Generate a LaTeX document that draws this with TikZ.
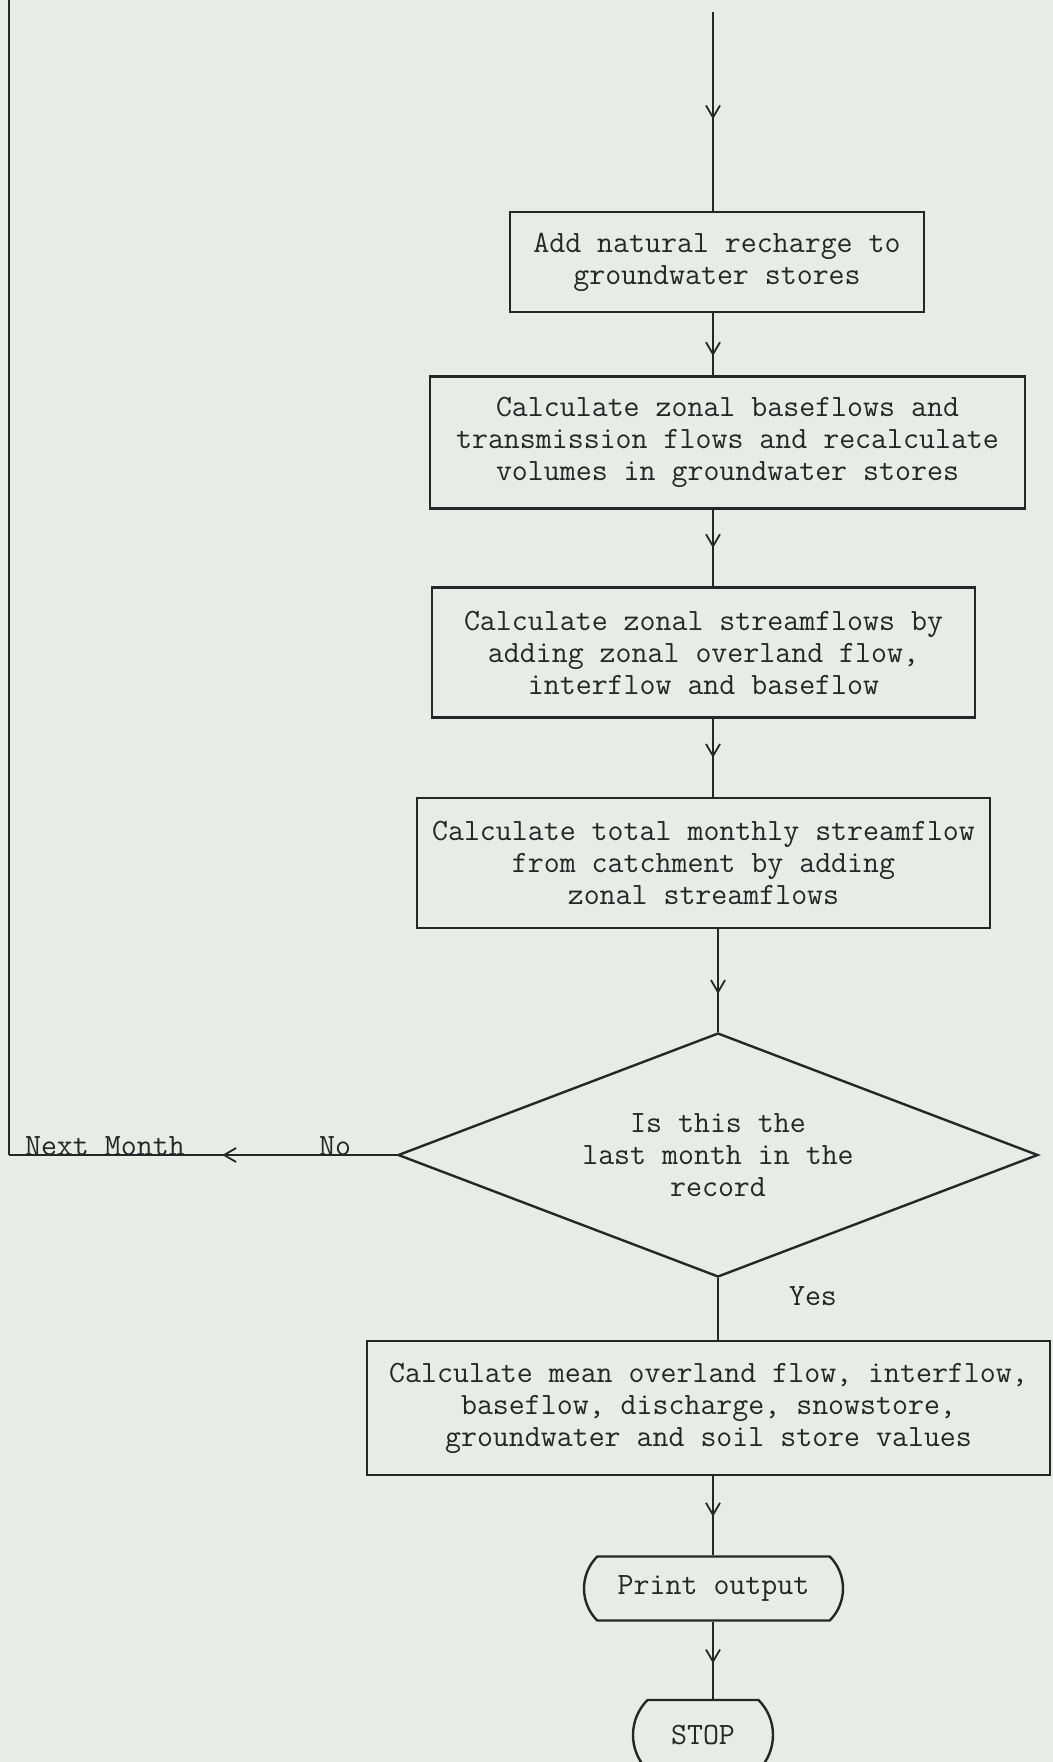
\documentclass[tikz,border=0pt]{standalone}
\usepackage{fontspec}
\usetikzlibrary{shapes.geometric,shapes.misc,arrows.meta,decorations.markings}

\begin{document}
\begin{tikzpicture}[x=0.5pt,y=-0.5pt]
  % some colors
  \colorlet{ink}{black!85}
  \definecolor{paper}{RGB}{233,236,230}
  % some styles
  \tikzset{
    txt/.style={font=\ttfamily\fontsize{15.5}{16}\selectfont,text=ink},
    box/.style={txt,draw=ink,line width=1.4pt,rectangle,inner sep=0pt,align=center},
    test/.style={txt,draw=ink,line width=1.2pt,diamond,inner sep=0pt,align=center,shape aspect=2.6},
    term/.style={txt,draw=ink,line width=1.2pt,rounded rectangle,rounded rectangle arc length=90,inner sep=0pt},
    link/.style={draw=ink,line width=0.9pt},
    flow/.style={link,postaction={decorate},
      decoration={markings,mark=at position #1 with {\arrow{Straight Barb[length=6pt,width=7pt,line width=0.9pt]}}}},
  }
  % paper
  \fill[paper] (0,0) rectangle (1053,1762);
  \useasboundingbox (0,0) rectangle (1053,1762);
  % the steps of one month
  \node[box,minimum width=207pt,minimum height=50pt] (recharge) at (717,262)
    {Add natural recharge to\\groundwater stores};
  \node[box,minimum width=297.5pt,minimum height=66pt] (baseflow) at (727.5,442.5)
    {Calculate zonal baseflows and\\transmission flows and recalculate\\volumes in groundwater stores};
  \node[box,minimum width=271.5pt,minimum height=65pt] (streamflow) at (703.5,652.5)
    {Calculate zonal streamflows by\\adding zonal overland flow,\\interflow and baseflow};
  \node[box,minimum width=286.5pt,minimum height=65pt] (total) at (703.5,863)
    {Calculate total monthly streamflow\\from catchment by adding\\zonal streamflows};
  \node[test,minimum width=320pt,minimum height=122pt] (last) at (718,1155)
    {Is this the\\last month in the\\record};
  \node[box,minimum width=341.5pt,minimum height=67pt] (means) at (708.5,1408)
    {Calculate mean overland flow, interflow,\\baseflow, discharge, snowstore,\\groundwater and soil store values};
  \node[term,minimum width=129.5pt,minimum height=32pt] (print) at (713.5,1588.5) {Print output};
  \node[term,minimum width=70pt,minimum height=35pt] (stop) at (703,1735) {STOP};
  % labels
  \node[txt,anchor=base west] (next) at (18,1155) {Next Month};
  \node[txt,anchor=base] (no) at (335,1155) {No};
  \node[txt,anchor=base] (yes) at (813,1305) {Yes};
  % free ends
  \coordinate (spine) at (713,0);
  \coordinate (entry) at (713,12);
  \coordinate (corner) at (9,1155);
  \coordinate (loop) at (9,0);
  % connectors
  \draw[flow=0.54] (entry) -- (recharge.north -| spine);
  \draw[flow=0.69] (recharge.south -| spine) -- (baseflow.north -| spine);
  \draw[flow=0.5] (baseflow.south -| spine) -- (streamflow.north -| spine);
  \draw[flow=0.5] (streamflow.south -| spine) -- (total.north -| spine);
  \draw[flow=0.63] (total.south -| last.north) -- (last.north);
  \draw[link] (last.south) -- (last.south |- means.north);
  \draw[flow=0.51] (means.south -| spine) -- (print.north -| spine);
  \draw[flow=0.54] (print.south -| spine) -- (stop.north -| spine);
  % back to the next month
  \draw[flow=0.45] (last.west) -- (corner);
  \draw[link] (corner) -- (loop);
\end{tikzpicture}
\end{document}
